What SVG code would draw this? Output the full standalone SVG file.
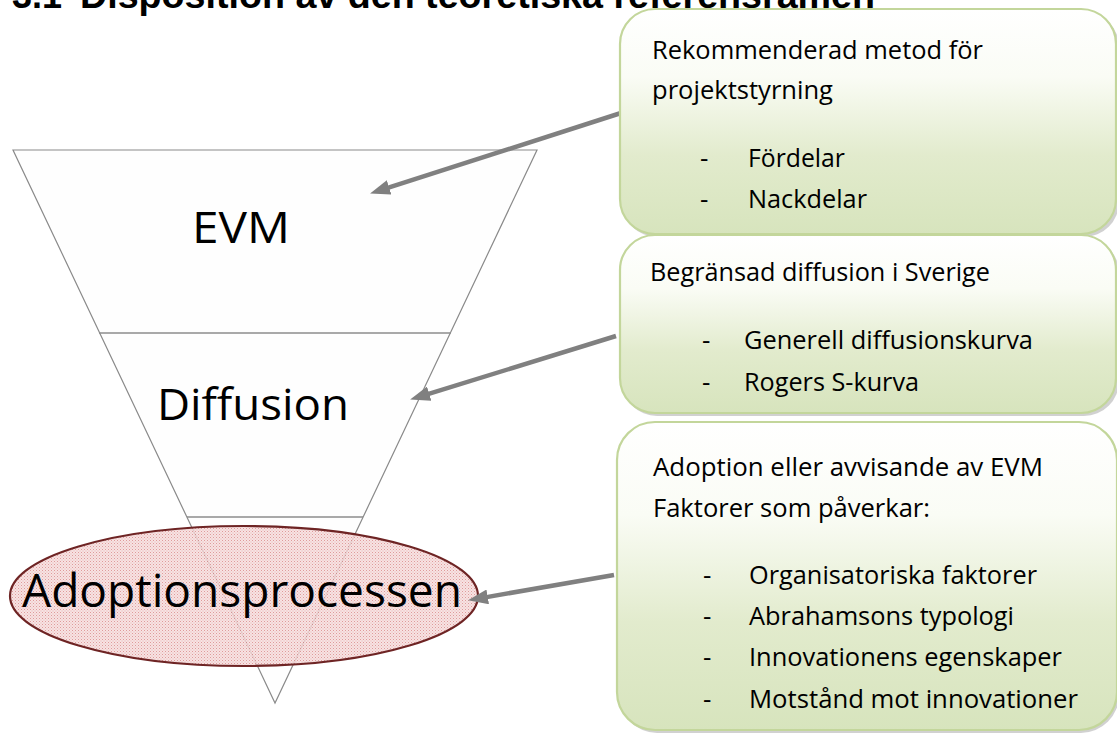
<svg xmlns="http://www.w3.org/2000/svg" width="1117" height="735" viewBox="0 0 1117 735">
  <defs>
    <style>
      .title { font-family: "Liberation Sans", Arial, sans-serif; font-weight: bold; font-size: 36px; fill: #000; }
      .big { font-family: "Open Sans", "DejaVu Sans", sans-serif; fill: #000; }
      .bt { font-family: "Open Sans", "DejaVu Sans", sans-serif; font-size: 26px; fill: #000; }
      .box { fill: url(#greenGrad); stroke: #c3d69b; stroke-width: 2.2; }
      .shadow { fill: #9a9a9a; opacity: 0.45; }
      .funnel { fill: #fefefe; stroke: #8a8a8a; stroke-width: 1.2; }
      .divider { stroke: #8c8c8c; stroke-width: 1.6; }
      .conn { stroke: #808080; stroke-width: 4.5; fill: none; marker-end: url(#arrow); }
    </style>
    <linearGradient id="greenGrad" x1="0" y1="0" x2="0" y2="1">
      <stop offset="0" stop-color="#ffffff"/>
      <stop offset="0.3" stop-color="#fafcf5"/>
      <stop offset="0.65" stop-color="#e2ebcd"/>
      <stop offset="1" stop-color="#d7e4bd"/>
    </linearGradient>
    <pattern id="dots" width="3" height="3" patternUnits="userSpaceOnUse">
      <rect width="3" height="3" fill="#f6dede"/>
      <rect width="1" height="1" fill="#d98a8a"/>
      <rect x="1.5" y="1.5" width="1" height="1" fill="#e4a6a6"/>
    </pattern>
    <marker id="arrow" markerUnits="userSpaceOnUse" markerWidth="22" markerHeight="15" refX="4" refY="7.5" orient="auto">
      <path d="M0,0 L20,7.5 L0,15 z" fill="#808080"/>
    </marker>
  </defs>

  <text class="title" x="12" y="8">3.1</text>
  <text class="title" x="80" y="8" textLength="795" lengthAdjust="spacingAndGlyphs">Disposition av den teoretiska referensramen</text>

  <g id="funnel">
    <polygon class="funnel" points="13,150 537,150 275,703"/>
    <line class="divider" x1="99" y1="333" x2="451" y2="333"/>
    <line class="divider" x1="187" y1="517" x2="363" y2="517"/>
  </g>

  <g id="evm">
    <text class="big" x="192" y="243" font-size="44" textLength="98" lengthAdjust="spacingAndGlyphs">EVM</text>
  </g>
  <g id="diffusion">
    <text class="big" x="157" y="420" font-size="43" textLength="192" lengthAdjust="spacingAndGlyphs">Diffusion</text>
  </g>
  <g id="adoption">
    <ellipse cx="244" cy="596" rx="234" ry="70" fill="url(#dots)" fill-opacity="0.85" stroke="#6e2424" stroke-width="2.2"/>
    <text class="big" x="22" y="607" font-size="46" textLength="440" lengthAdjust="spacingAndGlyphs">Adoptionsprocessen</text>
  </g>

  <g id="connectors">
    <line class="conn" x1="621" y1="113" x2="385.3" y2="188.7"/>
    <line class="conn" x1="616" y1="336" x2="425.4" y2="394.9"/>
    <line class="conn" x1="614" y1="575" x2="483.8" y2="597.6"/>
  </g>

  <g id="box1">
    <rect class="shadow" x="622" y="12" width="497" height="225" rx="35"/>
    <rect class="box" x="620" y="9" width="496" height="225" rx="35"/>
    <text class="bt" x="652" y="59" textLength="331" lengthAdjust="spacingAndGlyphs">Rekommenderad metod för</text>
    <text class="bt" x="652" y="99" textLength="181" lengthAdjust="spacingAndGlyphs">projektstyrning</text>
    <text class="bt" x="700" y="167">-</text>
    <text class="bt" x="748" y="167" textLength="97" lengthAdjust="spacingAndGlyphs">Fördelar</text>
    <text class="bt" x="700" y="208">-</text>
    <text class="bt" x="748" y="208" textLength="119" lengthAdjust="spacingAndGlyphs">Nackdelar</text>
  </g>

  <g id="box2">
    <rect class="shadow" x="622" y="238" width="497" height="178" rx="35"/>
    <rect class="box" x="620" y="235" width="496" height="178" rx="35"/>
    <text class="bt" x="650" y="281" textLength="340" lengthAdjust="spacingAndGlyphs">Begränsad diffusion i Sverige</text>
    <text class="bt" x="702" y="349">-</text>
    <text class="bt" x="744" y="349" textLength="289" lengthAdjust="spacingAndGlyphs">Generell diffusionskurva</text>
    <text class="bt" x="702" y="391">-</text>
    <text class="bt" x="744" y="391" textLength="175" lengthAdjust="spacingAndGlyphs">Rogers S-kurva</text>
  </g>

  <g id="box3">
    <rect class="shadow" x="619" y="425" width="500" height="308" rx="38"/>
    <rect class="box" x="617" y="422" width="500" height="308" rx="38"/>
    <text class="bt" x="653" y="476" textLength="390" lengthAdjust="spacingAndGlyphs">Adoption eller avvisande av EVM</text>
    <text class="bt" x="653" y="517" textLength="277" lengthAdjust="spacingAndGlyphs">Faktorer som påverkar:</text>
    <text class="bt" x="703" y="584">-</text>
    <text class="bt" x="749" y="584" textLength="288" lengthAdjust="spacingAndGlyphs">Organisatoriska faktorer</text>
    <text class="bt" x="703" y="625">-</text>
    <text class="bt" x="749" y="625" textLength="265" lengthAdjust="spacingAndGlyphs">Abrahamsons typologi</text>
    <text class="bt" x="703" y="666">-</text>
    <text class="bt" x="749" y="666" textLength="313" lengthAdjust="spacingAndGlyphs">Innovationens egenskaper</text>
    <text class="bt" x="703" y="708">-</text>
    <text class="bt" x="749" y="708" textLength="329" lengthAdjust="spacingAndGlyphs">Motstånd mot innovationer</text>
  </g>
</svg>
